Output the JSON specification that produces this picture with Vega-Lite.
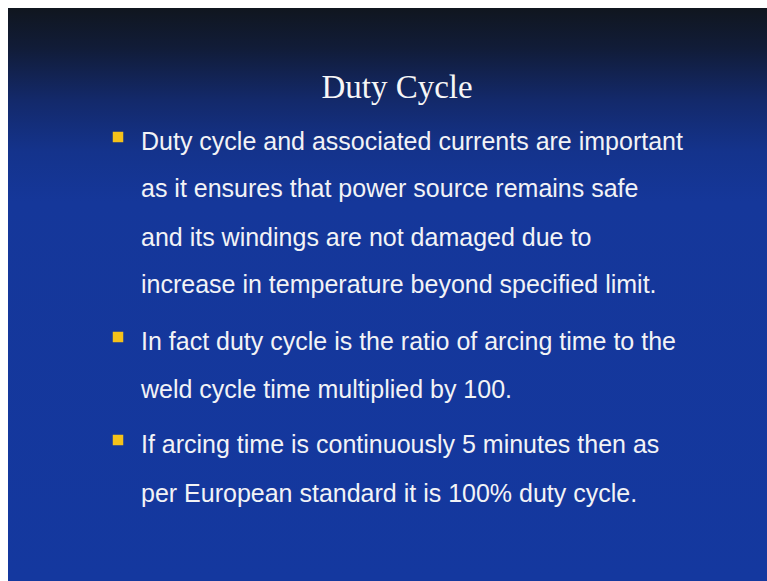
{
  "$schema": "https://vega.github.io/schema/vega-lite/v6.json",
  "width": 759,
  "height": 573,
  "autosize": "none",
  "padding": {"left": 8, "top": 8, "right": 0, "bottom": 0},
  "background": "#ffffff",
  "view": {"stroke": null},
  "datasets": {
    "bg": [{"x0": 0, "x1": 759, "y0": 0, "y1": 573}],
    "title": [{"x": 389, "y": 90, "text": "Duty Cycle"}],
    "bullets": [
      {"x": 110, "y": 129},
      {"x": 110, "y": 329},
      {"x": 110, "y": 432}
    ],
    "lines": [
      {"x": 133, "y": 142, "text": "Duty cycle and associated currents are important"},
      {"x": 133, "y": 189, "text": "as it ensures that power source remains safe"},
      {"x": 133, "y": 238, "text": "and its windings are not damaged due to"},
      {"x": 133, "y": 285, "text": "increase in temperature beyond specified limit."},
      {"x": 133, "y": 342, "text": "In fact duty cycle is the ratio of arcing time to the"},
      {"x": 133, "y": 390, "text": "weld cycle time multiplied by 100."},
      {"x": 133, "y": 445, "text": "If arcing time is continuously 5 minutes then as"},
      {"x": 133, "y": 494, "text": "per European standard it is 100% duty cycle."}
    ]
  },
  "layer": [
    {
      "data": {"name": "bg"},
      "mark": {
        "type": "rect",
        "color": {
          "gradient": "linear",
          "x1": 0, "y1": 0, "x2": 0, "y2": 1,
          "stops": [
            {"offset": 0, "color": "#10161f"},
            {"offset": 0.07, "color": "#111c38"},
            {"offset": 0.16, "color": "#13296a"},
            {"offset": 0.25, "color": "#14338c"},
            {"offset": 0.34, "color": "#15379a"},
            {"offset": 1, "color": "#14389f"}
          ]
        }
      },
      "encoding": {
        "x": {"field": "x0", "type": "quantitative", "scale": {"domain": [0, 759], "nice": false, "zero": false}, "axis": null},
        "x2": {"field": "x1"},
        "y": {"field": "y0", "type": "quantitative", "scale": {"domain": [0, 573], "nice": false, "zero": false, "reverse": true}, "axis": null},
        "y2": {"field": "y1"}
      }
    },
    {
      "data": {"name": "title"},
      "mark": {"type": "text", "font": "Liberation Serif", "fontSize": 33, "color": "#f6f6f6", "align": "center", "baseline": "alphabetic"},
      "encoding": {
        "x": {"field": "x", "type": "quantitative"},
        "y": {"field": "y", "type": "quantitative"},
        "text": {"field": "text"}
      }
    },
    {
      "data": {"name": "bullets"},
      "mark": {"type": "point", "shape": "square", "filled": true, "size": 110, "color": "#f5c21a", "opacity": 1},
      "encoding": {
        "x": {"field": "x", "type": "quantitative"},
        "y": {"field": "y", "type": "quantitative"}
      }
    },
    {
      "data": {"name": "lines"},
      "mark": {"type": "text", "font": "Liberation Sans", "fontSize": 25, "color": "#f2f3f6", "align": "left", "baseline": "alphabetic"},
      "encoding": {
        "x": {"field": "x", "type": "quantitative"},
        "y": {"field": "y", "type": "quantitative"},
        "text": {"field": "text"}
      }
    }
  ]
}
